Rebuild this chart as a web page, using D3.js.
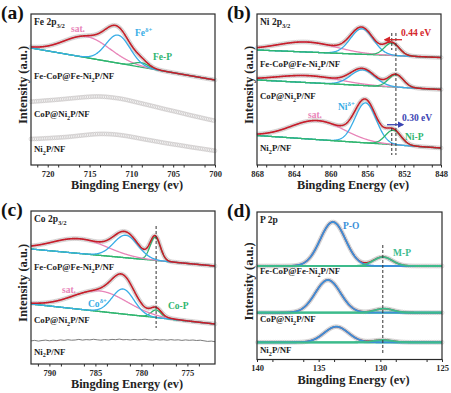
<!DOCTYPE html>
<html>
<head>
<meta charset="utf-8">
<script src="https://cdn.jsdelivr.net/npm/d3@7"></script>
<style>
body { margin: 0; background: #fff; }
svg text { font-family: "Liberation Serif", "Times New Roman", serif; font-weight: bold; }
</style>
</head>
<body>
<svg id="chart" width="451" height="393"></svg>
<script>
'use strict';

// samples, top to bottom in every panel
var sampleNames = ['Fe-CoP@Fe-Ni_{2}P/NF', 'CoP@Ni_{2}P/NF', 'Ni_{2}P/NF'];

// binding energy ticks (eV)
var feTicks = [720, 715, 710, 705, 700];
var niTicks = [868, 864, 860, 856, 852, 848];
var coTicks = [790, 785, 780, 775];
var pTicks = [140, 135, 130, 125];

// fitted components: [sample, component, centre eV, height a.u., FWHM eV]
var fePeaks = [
    [0, 'sat', 715.3, 21, 6.5],
    [0, 'p', 708.8, 4.5, 2.0],
    [0, 'main', 711.6, 28, 3.4]
];
var niPeaks = [
    [0, 'sat', 862.6, 10, 7.5], [0, 'main', 856.6, 25.5, 2.9], [0, 'p', 853.35, 12.5, 1.9],
    [1, 'sat', 862.4, 7, 8], [1, 'main', 856.5, 15.5, 3.1], [1, 'p', 852.9, 12.5, 1.9],
    [2, 'sat', 861.4, 19, 6.8], [2, 'main', 856.2, 40, 2.7], [2, 'p', 853.2, 14.5, 2.0]
];
var coPeaks = [
    [0, 'p', 778.5, 23.3, 1.3], [0, 'sat', 786.7, 14.7, 7], [0, 'main', 781.7, 22.5, 3.1],
    [1, 'p', 778.4, 7.6, 1.3], [1, 'sat', 784.5, 20.5, 7], [1, 'main', 782.0, 25, 2.8]
];
var pPeaks = [
    [0, 'main', 133.85, 44, 2.4], [0, 'p', 129.8, 9, 1.8],
    [1, 'main', 134.25, 32.7, 2.4], [1, 'p', 129.7, 4, 1.8],
    [2, 'main', 133.57, 15.6, 2.3], [2, 'p', 129.8, 2.3, 1.8]
];

// linear backgrounds: [sample, intensity at high-BE edge, intensity at low-BE edge]
var feBackground = [[0, 117, 85]];
var niBackground = [[0, 115, 107.5], [1, 85, 75.5], [2, 29.5, 17]];
var coBackground = [[0, 115, 98], [1, 60, 40]];
var pBackground = [[0, 93.5, 93.5], [1, 46.8, 46.8], [2, 17.2, 17.2]];

// unfitted traces
var feRawEnergy = [722, 721, 720, 719, 718, 717, 716, 715, 714, 713, 712, 711,
    710, 709, 708, 707, 706, 705, 704, 703, 702, 701, 700];
var feRawCoP = [63.3, 63.9, 64.6, 65.2, 66.0, 66.8, 67.6, 68.3, 68.6, 68.2, 67.2, 66.0,
    64.0, 62.0, 60.0, 58.0, 55.8, 54.0, 52.0, 49.8, 48.0, 46.0, 44.2];
var feRawNi2P = [26.0, 26.3, 26.8, 27.3, 27.8, 28.6, 29.5, 30.4, 31.1, 31.1, 30.6, 29.6,
    28.2, 26.6, 25.0, 23.6, 22.0, 20.7, 19.5, 18.0, 16.8, 15.5, 14.2];
var coRawEnergy = [792, 791.6, 791.2, 790.8, 790.4, 790, 789.6, 789.2, 788.8, 788.4,
    788, 787.6, 787.2, 786.8, 786.4, 786, 785.6, 785.2, 784.8, 784.4,
    784, 783.6, 783.2, 782.8, 782.4, 782, 781.6, 781.2, 780.8, 780.4,
    780, 779.6, 779.2, 778.8, 778.4, 778, 777.6, 777.2, 776.8, 776.4,
    776, 775.6, 775.2, 774.8, 774.4, 774, 773.6, 773.2, 772.8, 772.4, 772];
var coRawNi2P = [23.1, 23.6, 22.9, 23.5, 23.9, 23.2, 23.8, 23.4, 24.1, 23.6,
    24.3, 23.8, 24.0, 24.6, 23.9, 24.4, 24.1, 24.7, 24.2, 23.8,
    24.5, 24.0, 24.6, 24.3, 24.9, 24.2, 24.5, 24.0, 24.6, 24.1,
    24.4, 24.8, 24.2, 23.9, 24.5, 24.0, 24.3, 23.8, 24.4, 23.9,
    24.2, 23.6, 24.1, 23.7, 24.0, 23.5, 23.8, 23.2, 22.6, 22.9, 22.3];

var colors = {
    sat: '#e884b8', main: '#38ade6', p: '#2fb56f', env: '#c41f28',
    dot: '#c4c0c1', red: '#d4262b', navy: '#3b45b3'
};

var panels = [
    {
        id: '(a)', level: 'Fe 2p_{3/2}', left: 31, right: 215, top: 14, bottom: 165,
        domain: [722, 700], ticks: feTicks, minorStep: 2.5,
        peaks: fePeaks, background: feBackground, rows: [65, 103, 138],
        raw: [[feRawEnergy, feRawCoP], [feRawEnergy, feRawNi2P]],
        labels: [
            ['sat.', 40, 18, colors.sat], ['Fe^{δ+}', 104, 21.5, colors.main], ['Fe-P', 122, 46, colors.p]
        ]
    },
    {
        id: '(b)', level: 'Ni 2p_{3/2}', left: 257, right: 441, top: 14, bottom: 165,
        domain: [868, 848], ticks: niTicks, minorStep: 2,
        peaks: niPeaks, background: niBackground, rows: [53, 85, 137],
        labels: [
            ['sat.', 51, 104, colors.sat], ['Ni^{δ+}', 81, 96, colors.main], ['Ni-P', 148, 125.5, colors.p],
            ['0.44 eV', 144, 22, colors.red], ['0.30 eV', 145, 107, colors.navy]
        ],
        dashes: [[852.9, 132, 10], [853.35, 132, 115], [853.35, 37, 10]],
        arrows: [[852.24, 854.1, 125.3, colors.red], [853.87, 852.13, 40.3, colors.navy]]
    },
    {
        id: '(c)', level: 'Co 2p_{3/2}', left: 31, right: 215, top: 211, bottom: 364,
        domain: [792, 772], ticks: coTicks, minorStep: 2.5,
        peaks: coPeaks, background: coBackground, rows: [59, 112, 143.5],
        noisy: [[coRawEnergy, coRawNi2P]],
        labels: [
            ['sat.', 31, 82, colors.sat], ['Co^{δ+}', 57, 96, colors.main], ['Co-P', 137, 98, colors.p]
        ],
        dashes: [[778.4, 138, 36]]
    },
    {
        id: '(d)', level: 'P 2p', left: 257, right: 442, top: 212, bottom: 359.5,
        domain: [140, 125], ticks: pTicks, minorStep: 2.5, envUnder: true,
        mainColor: '#3b8fd8', pColor: '#3dbb8c', bgWidth: 2.2,
        peaks: pPeaks, background: pBackground, rows: [62, 110, 141],
        labels: [
            ['P-O', 86, 17, '#3b8fd8'], ['M-P', 136, 44, '#3dbb8c']
        ],
        dashes: [[129.8, 114.5, 5.5]]
    }
];

var svg = d3.select('#chart');

var defs = svg.append('defs');
[['red', colors.red], ['navy', colors.navy]].forEach(function(m) {
    defs.append('marker')
        .attr('id', 'head-' + m[0])
        .attr('viewBox', '0 0 10 10')
        .attr('refX', 8).attr('refY', 5)
        .attr('markerWidth', 5).attr('markerHeight', 5)
        .attr('orient', 'auto')
        .append('path')
        .attr('d', 'M0,0L10,5L0,10z')
        .attr('fill', m[1]);
});

function gauss(e, c, h, w) {
    var s = w / 2.3548;
    return h * Math.exp(-(e - c) * (e - c) / (2 * s * s));
}

function richText(sel, str, size) {
    var shift = 0;
    str.split(/([_^]\{[^}]*\})/).forEach(function(part) {
        if (!part) return;
        var t = sel.append('tspan');
        var target = 0;
        if (part[0] === '_' || part[0] === '^') {
            target = part[0] === '_' ? size * 0.3 : -size * 0.42;
            t.attr('font-size', size * 0.7).text(part.slice(2, -1));
        } else {
            t.text(part);
        }
        t.attr('dy', target - shift);
        shift = target;
    });
}

// open circles along a drawn path, like the measured points
function dots(g, d) {
    var path = g.append('path').attr('d', d);
    var node = path.node();
    var len = node.getTotalLength();
    var pts = [];
    for (var l = 0; l <= len; l += 1.8) pts.push(node.getPointAtLength(l));
    path.remove();
    g.append('g').selectAll('circle').data(pts).join('circle')
        .attr('cx', function(p) { return p.x; })
        .attr('cy', function(p) { return p.y; })
        .attr('r', 2)
        .attr('fill', 'none')
        .attr('stroke', colors.dot)
        .attr('stroke-width', 0.55);
}

panels.forEach(function(p) {
    var x = d3.scaleLinear().domain(p.domain).range([p.left, p.right]);
    var y = d3.scaleLinear().domain([0, p.bottom - p.top]).range([p.bottom, p.top]);
    var g = svg.append('g');
    var plot = g.append('g');
    var line = d3.line().x(function(d) { return x(d[0]); }).y(function(d) { return y(d[1]); });
    var smooth = d3.line().curve(d3.curveBasis).x(function(d) { return x(d[0]); }).y(function(d) { return y(d[1]); });
    var lo = p.domain[1], hi = p.domain[0];
    var grid = d3.range(lo, hi + 0.001, 0.04);
    var compColor = {sat: colors.sat, main: p.mainColor || colors.main, p: p.pColor || colors.p};

    (p.raw || []).forEach(function(r) {
        dots(plot, smooth(r[0].map(function(e, i) { return [e, r[1][i]]; })));
    });

    (p.noisy || []).forEach(function(r) {
        plot.append('path')
            .attr('d', line(r[0].map(function(e, i) { return [e, r[1][i]]; })))
            .attr('fill', 'none')
            .attr('stroke', '#6b6b6b')
            .attr('stroke-width', 0.9);
    });

    p.background.forEach(function(b) {
        var s = b[0];
        var base = function(e) { return b[1] + (b[2] - b[1]) * (hi - e) / (hi - lo); };
        var comps = p.peaks.filter(function(pk) { return pk[0] === s; });
        var env = grid.map(function(e) {
            return [e, base(e) + d3.sum(comps, function(pk) { return gauss(e, pk[2], pk[3], pk[4]); })];
        });
        var drawEnv = function() {
            plot.append('path').attr('d', line(env))
                .attr('fill', 'none').attr('stroke', colors.env).attr('stroke-width', 1.6);
        };
        dots(plot, line(env));
        if (p.envUnder) drawEnv();
        plot.append('path').attr('d', line(grid.map(function(e) { return [e, base(e)]; })))
            .attr('fill', 'none').attr('stroke', compColor.p).attr('stroke-width', p.bgWidth || 1.3);
        comps.forEach(function(pk) {
            plot.append('path')
                .attr('d', line(grid.map(function(e) { return [e, base(e) + gauss(e, pk[2], pk[3], pk[4])]; })))
                .attr('fill', 'none')
                .attr('stroke', compColor[pk[1]])
                .attr('stroke-width', p.envUnder ? 1.8 : 1.3);
        });
        if (!p.envUnder) drawEnv();
    });

    (p.dashes || []).forEach(function(d) {
        g.append('line')
            .attr('x1', x(d[0])).attr('x2', x(d[0]))
            .attr('y1', y(d[1])).attr('y2', y(d[2]))
            .attr('stroke', '#333').attr('stroke-width', 1).attr('stroke-dasharray', '3,2');
    });

    (p.arrows || []).forEach(function(a) {
        g.append('line')
            .attr('x1', x(a[0])).attr('x2', x(a[1]))
            .attr('y1', y(a[2])).attr('y2', y(a[2]))
            .attr('stroke', a[3]).attr('stroke-width', 1.3)
            .attr('marker-end', 'url(#head-' + (a[3] === colors.red ? 'red' : 'navy') + ')');
    });

    g.append('rect')
        .attr('x', p.left).attr('y', p.top)
        .attr('width', p.right - p.left).attr('height', p.bottom - p.top)
        .attr('fill', 'none').attr('stroke', '#2a2a2a').attr('stroke-width', 1.2);

    var minor = [];
    p.ticks.forEach(function(t) {
        [t - p.minorStep / 2, t + p.minorStep / 2].forEach(function(m) {
            if (m >= lo && m <= hi && minor.indexOf(m) < 0) minor.push(m);
        });
    });

    var ax = g.append('g')
        .attr('transform', 'translate(0,' + p.bottom + ')')
        .call(d3.axisBottom(x).tickValues(p.ticks).tickSize(2.5).tickPadding(3).tickFormat(d3.format('d')));
    ax.attr('font-size', 8.5).attr('color', '#2a2a2a');
    ax.select('.domain').remove();

    var axm = g.append('g')
        .attr('transform', 'translate(0,' + p.bottom + ')')
        .call(d3.axisBottom(x).tickValues(minor).tickSize(2.5).tickFormat(''));
    axm.attr('color', '#2a2a2a');
    axm.select('.domain').remove();

    g.append('text')
        .attr('x', (p.left + p.right) / 2 + 4)
        .attr('y', p.bottom + 24)
        .attr('text-anchor', 'middle')
        .attr('font-size', 12.3)
        .attr('fill', '#222')
        .text('Bingding Energy (ev)');

    g.append('text')
        .attr('transform', 'translate(' + (p.left - 8.5) + ',' + (p.top + (p.bottom - p.top) * 0.47) + ') rotate(-90)')
        .attr('dy', '0.35em')
        .attr('text-anchor', 'middle')
        .attr('font-size', 12.5)
        .attr('fill', '#222')
        .text('Intensity (a.u.)');

    g.append('text')
        .attr('x', p.left - 30)
        .attr('y', p.top + 5)
        .attr('font-size', 19.5)
        .attr('fill', '#111')
        .text(p.id);

    richText(g.append('text').attr('x', p.left + 3).attr('y', p.top + 11)
        .attr('font-size', 9.5).attr('fill', '#222'), p.level, 9.5);

    sampleNames.forEach(function(name, i) {
        richText(g.append('text').attr('x', p.left + 3).attr('y', p.top + p.rows[i])
            .attr('font-size', 8.8).attr('fill', '#222'), name, 8.8);
    });

    p.labels.forEach(function(l) {
        richText(g.append('text').attr('x', p.left + l[1]).attr('y', p.top + l[2])
            .attr('font-size', 9.5).attr('fill', l[3]), l[0], 9.5);
    });
});
</script>
</body>
</html>
